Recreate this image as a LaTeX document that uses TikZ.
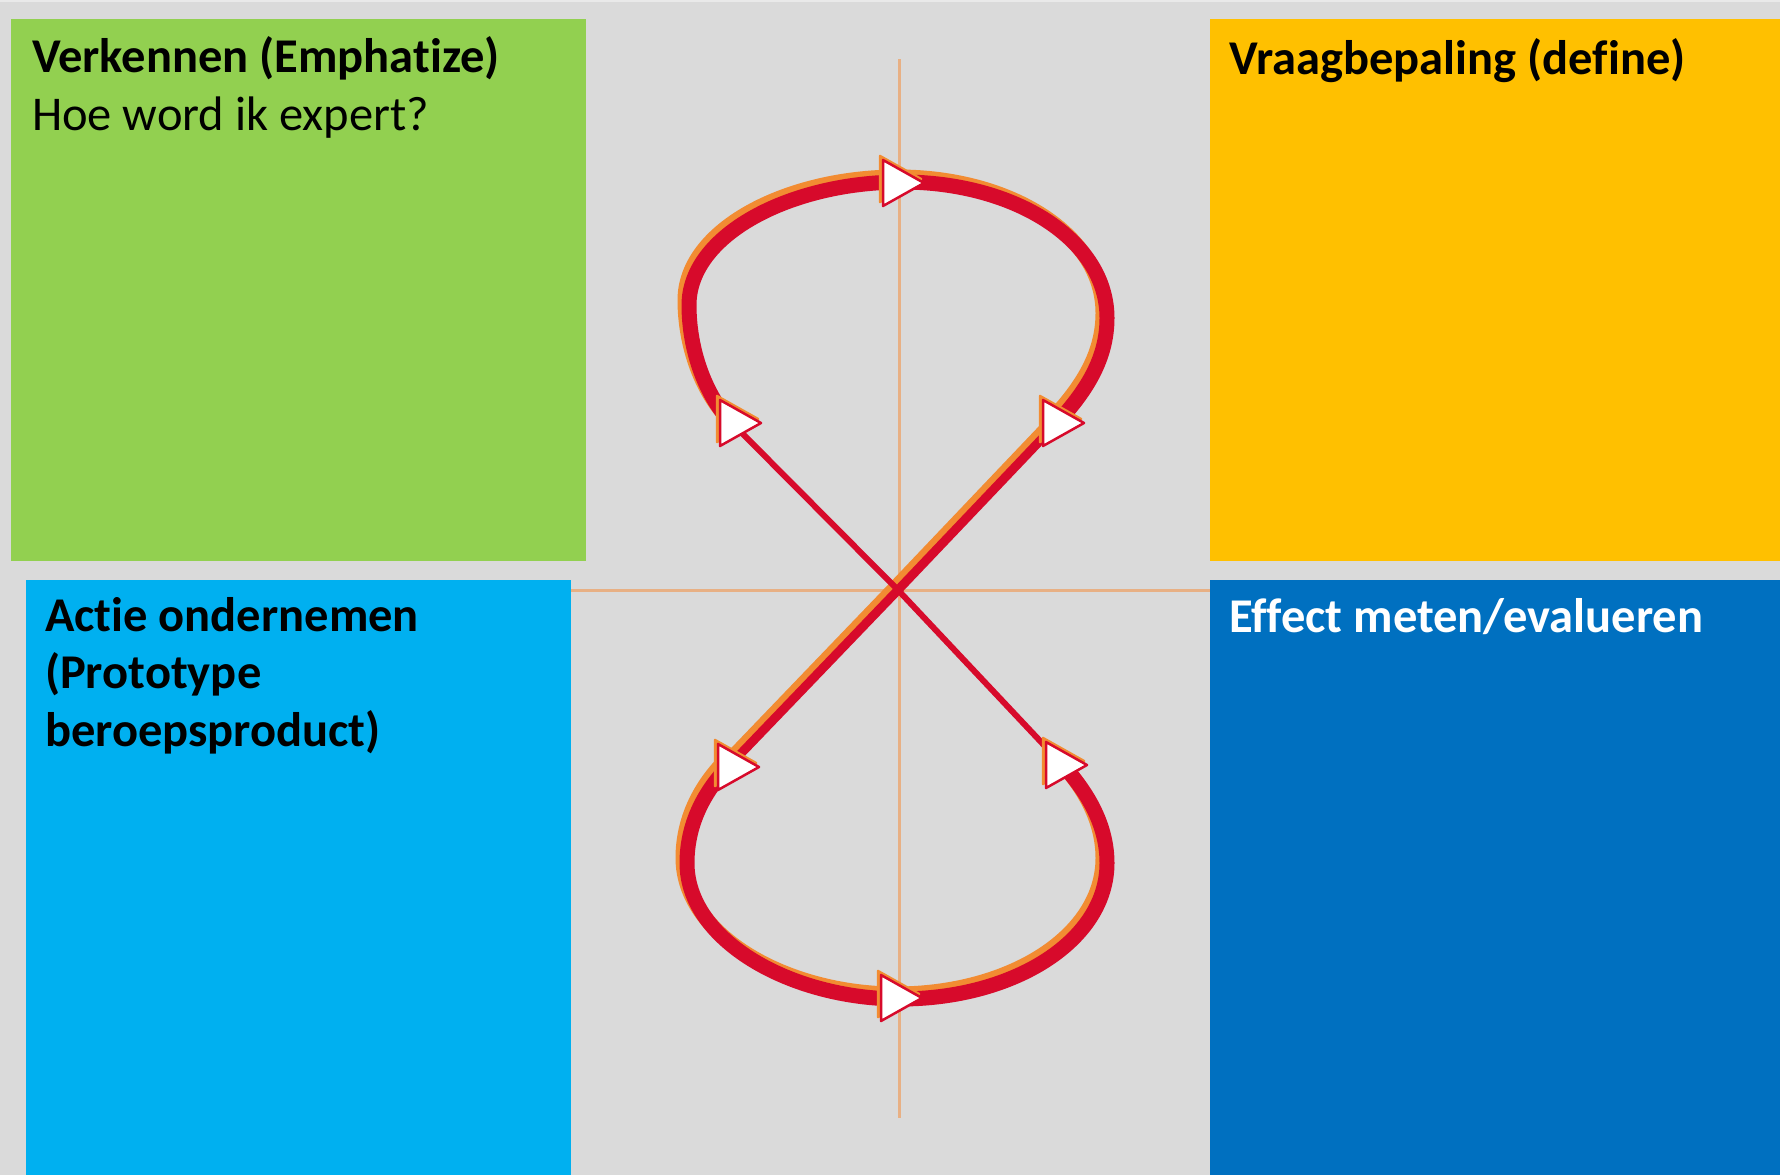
\documentclass[tikz,border=0pt]{standalone}
\usepackage{fontspec}
\setmainfont{Carlito}[Ligatures=NoCommon]
\usetikzlibrary{positioning}

\definecolor{achtergrond}{HTML}{DADADA}
\definecolor{groen}{HTML}{92D050}
\definecolor{geel}{HTML}{FFC000}
\definecolor{lichtblauw}{HTML}{00B0F0}
\definecolor{donkerblauw}{HTML}{0070C0}
\definecolor{rood}{HTML}{D70A2B}
\definecolor{oranje}{HTML}{F28C32}
\definecolor{aslijn}{HTML}{E8B084}

\tikzset{
	vlak/.style = {anchor=north west, inner sep=0, outer sep=0},
	kop/.style = {anchor=base west, align=left, inner sep=0, outer sep=0,
		font=\fontsize{48.5}{57.5}\selectfont\bfseries},
	as/.style = {aslijn, line width=3},
	lus/.style = {rood, line width=15},
	diag/.style = {rood, line width=6},
	schaduw/.style = {oranje, line width=15, transform canvas={shift={(-4,-5)}}},
	pijl/.style = {fill=white, draw=rood, line width=2.5, line join=round},
	pijlschaduw/.style = {fill=oranje, draw=oranje, line width=2.5, line join=round}
}

\begin{document}
\begin{tikzpicture}[x=1pt, y=-1pt]
	\useasboundingbox (0,0) rectangle (1780,1175);
	\fill[achtergrond] (0,0) rectangle (1780,1175);
	\fill[white!40!achtergrond] (0,0) rectangle (1780,2);
	
	% de vier vlakken
	\node[vlak, fill=groen, minimum width=575, minimum height=542] (verkennen) at (11,19) {};
	\node[vlak, fill=geel, minimum width=570, minimum height=542] (vraag) at (1210,19) {};
	\node[vlak, fill=lichtblauw, minimum width=545, minimum height=595] (actie) at (26,580) {};
	\node[vlak, fill=donkerblauw, minimum width=570, minimum height=595] (effect) at (1210,580) {};
	
	% tekst: anker op de basislijn van de laatste regel
	\node[kop] (verkennentekst) at ([shift={(21,111)}]verkennen.north west) {Verkennen (Emphatize)\\\mdseries Hoe word ik expert?};
	\node[kop] (vraagtekst) at ([shift={(19,55)}]vraag.north west) {Vraagbepaling (define)};
	\node[kop] (actietekst) at ([shift={(19,166)}]actie.north west) {Actie ondernemen\\(Prototype\\beroepsproduct)};
	\node[kop, text=white] (effecttekst) at ([shift={(19,52)}]effect.north west) {Effect meten/evalueren};
	
	% assen
	\coordinate (asboven) at (899,59);
	\coordinate (asonder) at (899,1118);
	\coordinate (aslinks) at (actie.east |- 0,590);
	\coordinate (asrechts) at (effect.west |- 0,590);
	\draw[as] (asboven) -- (asonder);
	\draw[as] (aslinks) -- (asrechts);
	
	% de acht
	\coordinate (kruis) at (898,590);
	\coordinate (pijlLB) at (727,418);
	\coordinate (pijlRB) at (1055,425);
	\coordinate (pijlLO) at (727,768);
	\coordinate (pijlRO) at (1058,760);
	
	\draw[schaduw] (pijlRB) .. controls (1085,393) and (1107,360) .. (1107,318) .. controls (1107,240) and (1015,182) .. (902,182) .. controls (790,182) and (689,235) .. (689,305) .. controls (689,350) and (705,392) .. (pijlLB);
	\draw[schaduw] (pijlLO) .. controls (708,788) and (687,820) .. (687,863) .. controls (687,940) and (790,999) .. (900,999) .. controls (1015,999) and (1107,940) .. (1107,863) .. controls (1107,820) and (1082,785) .. (pijlRO);
	\draw[schaduw, line width=9] (pijlRB) -- (kruis) -- (pijlLO);
	
	\draw[diag] (pijlRO) -- (kruis) -- (pijlLB);
	\draw[diag, line width=9] (pijlRB) -- (kruis) -- (pijlLO);
	\draw[lus] (pijlRB) .. controls (1085,393) and (1107,360) .. (1107,318) .. controls (1107,240) and (1015,182) .. (902,182) .. controls (790,182) and (689,235) .. (689,305) .. controls (689,350) and (705,392) .. (pijlLB);
	\draw[lus] (pijlLO) .. controls (708,788) and (687,820) .. (687,863) .. controls (687,940) and (790,999) .. (900,999) .. controls (1015,999) and (1107,940) .. (1107,863) .. controls (1107,820) and (1082,785) .. (pijlRO);
	
	% pijlpunten
	\foreach \x/\y in {883/183, 720/423, 1043/423, 718/767, 1046/765, 881/998} {
		\draw[pijlschaduw] (\x-3,\y-27) -- (\x-3,\y+19) -- (\x+38,\y-4) -- cycle;
		\draw[pijl] (\x,\y-23) -- (\x,\y+23) -- (\x+41,\y) -- cycle;
	}
\end{tikzpicture}
\end{document}
